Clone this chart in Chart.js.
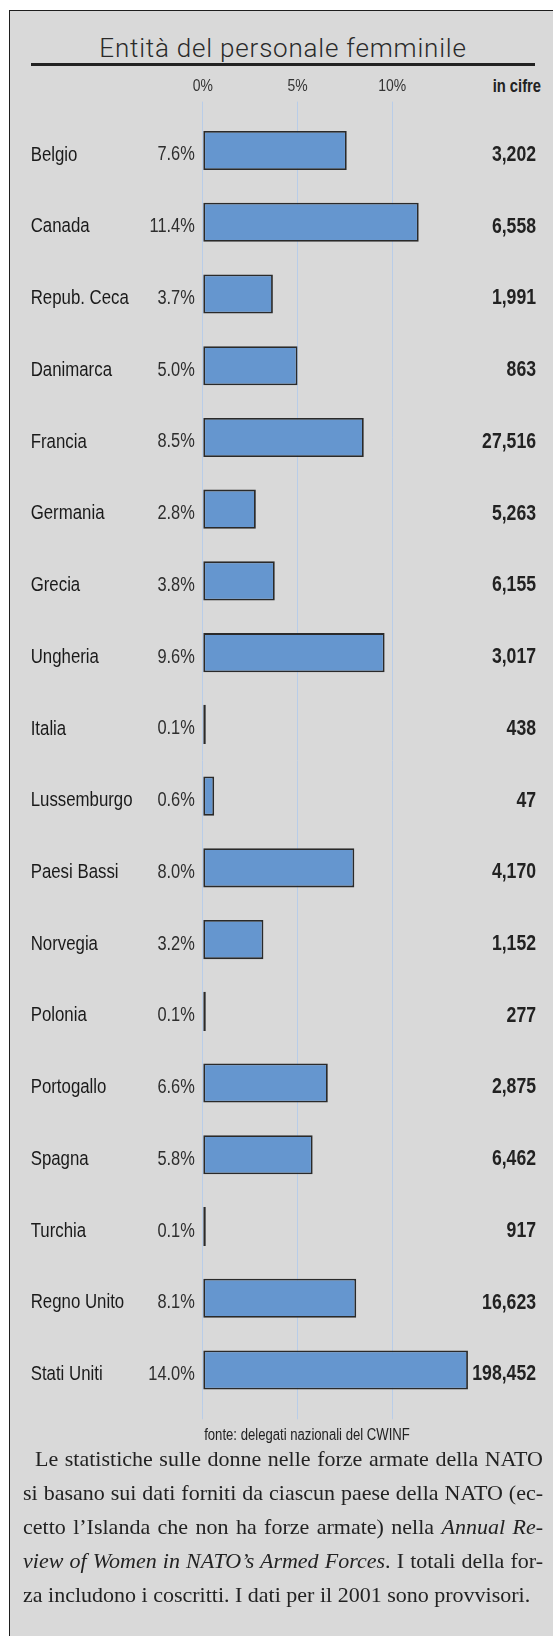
<!DOCTYPE html>
<html>
<head>
<meta charset="utf-8">
<script src="https://cdn.jsdelivr.net/npm/chart.js@4/dist/chart.umd.min.js"></script>
<style>
  html, body { margin: 0; padding: 0; background: #ffffff; }
  body { position: relative; width: 553px; height: 1636px; overflow: hidden; }
  #frame { position: absolute; left: 9px; top: 10px; right: 0; bottom: 0;
           border-left: 1.5px solid #1e1e1e; border-top: 1.5px solid #1e1e1e; background: #d9d9d9; }
  #title { position: absolute; left: 31px; width: 504px; top: 34.5px; text-align: center;
           font-family: Roboto, "Open Sans", sans-serif; font-weight: 300; font-size: 26px; line-height: 26px;
           letter-spacing: 0.8px; color: #2a2a2a; white-space: nowrap; }
  #rule { position: absolute; left: 31px; width: 504px; top: 63px; height: 3px; background: #222; }
  #incifre { position: absolute; right: 11.6px; top: 77px; font-family: "Liberation Sans", Arial, sans-serif;
             font-weight: bold; font-size: 18px; line-height: 18px; color: #222; white-space: nowrap;
             transform: scaleX(0.82); transform-origin: right center; }
  #c { position: absolute; left: 0; top: 0; }
  #src { position: absolute; left: 0; width: 614px; top: 1427px; text-align: center;
         font-family: "Liberation Sans", Arial, sans-serif; font-size: 16px; line-height: 16px;
         color: #222; white-space: nowrap; transform: scaleX(0.82); transform-origin: 307px center; }
  #para { position: absolute; left: 23px; width: 520px; top: 1442px;
          font-family: "Liberation Serif", "Times New Roman", serif; font-size: 22px; line-height: 34px; color: #222; }
  #para .l { text-align: justify; text-align-last: justify; }
  #para .last { text-align: left; }
  #para .ind { text-indent: 12px; }
</style>
</head>
<body>
<div id="frame"></div>
<div id="title">Entità del personale femminile</div>
<div id="rule"></div>
<div id="incifre">in cifre</div>
<canvas id="c" width="553" height="1440"></canvas>
<div id="src">fonte: delegati nazionali del CWINF</div>
<div id="para">
  <div class="l ind">Le statistiche sulle donne nelle forze armate della NATO</div>
  <div class="l">si basano sui dati forniti da ciascun paese della NATO (ec-</div>
  <div class="l">cetto l’Islanda che non ha forze armate) nella <i>Annual Re-</i></div>
  <div class="l"><i>view of Women in NATO’s Armed Forces</i>. I totali della for-</div>
  <div class="last">za includono i coscritti. I dati per il 2001 sono provvisori.</div>
</div>
<script>
// ---- data ----
const countries = ['Belgio','Canada','Repub. Ceca','Danimarca','Francia','Germania','Grecia','Ungheria','Italia','Lussemburgo','Paesi Bassi','Norvegia','Polonia','Portogallo','Spagna','Turchia','Regno Unito','Stati Uniti'];
const percentValues = [7.6, 11.4, 3.7, 5.0, 8.5, 2.8, 3.8, 9.6, 0.1, 0.6, 8.0, 3.2, 0.1, 6.6, 5.8, 0.1, 8.1, 14.0];
const percentLabels = ['7.6%','11.4%','3.7%','5.0%','8.5%','2.8%','3.8%','9.6%','0.1%','0.6%','8.0%','3.2%','0.1%','6.6%','5.8%','0.1%','8.1%','14.0%'];
const totalLabels = ['3,202','6,558','1,991','863','27,516','5,263','6,155','3,017','438','47','4,170','1,152','277','2,875','6,462','917','16,623','198,452'];
const xTickValues = [0, 5, 10];

const SANS = '"Liberation Sans", Arial, sans-serif';
const GRID = '#b9cde8';
const keepTicks = (scale) => { scale.ticks = xTickValues.map(v => ({ value: v })); };

// condensed look: draw canvas text horizontally narrowed (like Arial Narrow)
const canvas = document.getElementById('c');
const ctx2d = canvas.getContext('2d');
const nativeFill = ctx2d.fillText.bind(ctx2d);
const NARROW_SCALE = 0.82;
ctx2d.fillText = function (text, x, y) {
  this.save();
  this.translate(x, y);
  this.scale(NARROW_SCALE, 1);
  nativeFill(text, 0, 0);
  this.restore();
};

new Chart(canvas, {
  type: 'bar',
  data: {
    labels: countries,
    datasets: [{
      data: percentValues,
      backgroundColor: '#6596cf',
      borderColor: '#2a2a2a',
      borderWidth: 1.8,
      borderSkipped: false,
      barPercentage: 0.545,
      categoryPercentage: 1.0,
      minBarLength: 3,
      clip: false,
      xAxisID: 'x',
      yAxisID: 'y'
    }]
  },
  options: {
    indexAxis: 'y',
    responsive: false,
    animation: false,
    devicePixelRatio: 1,
    layout: { padding: { top: 74.6, left: 30.7, right: 17, bottom: 20.7 } },
    plugins: { legend: { display: false }, tooltip: { enabled: false }, title: { display: false } },
    scales: {
      x: {
        type: 'linear', position: 'top', min: 0, max: 12.313,
        afterBuildTicks: keepTicks,
        afterFit: (s) => { s.height = 40; },
        grid: { color: GRID, lineWidth: 1, tickLength: 13, drawTicks: true },
        border: { display: false },
        ticks: { padding: 5, color: '#333', font: { family: SANS, size: 17 }, callback: (v) => v + '%' }
      },
      x2: {
        type: 'linear', position: 'bottom', min: 0, max: 12.313,
        afterBuildTicks: keepTicks,
        afterFit: (s) => { s.height = 13.4; },
        grid: { color: GRID, lineWidth: 1, tickLength: 13.4, drawOnChartArea: false, drawTicks: true },
        border: { display: false },
        ticks: { display: false }
      },
      y: {
        type: 'category', position: 'left', weight: 2, offset: true,
        afterFit: (s) => { s.width = 107; },
        grid: { display: false, drawTicks: false },
        border: { display: false },
        ticks: { crossAlign: 'far', padding: 0, labelOffset: 4.5, autoSkip: false, color: '#1a1a1a', font: { family: SANS, size: 20.5 } }
      },
      yPct: {
        type: 'category', position: 'left', weight: 1, offset: true, labels: percentLabels,
        afterFit: (s) => { s.width = 65.1; },
        grid: { display: false, drawTicks: false },
        border: { display: false },
        ticks: { crossAlign: 'near', padding: 8, labelOffset: 4.5, autoSkip: false, color: '#2e2e2e', font: { family: SANS, size: 20 } }
      },
      yNum: {
        type: 'category', position: 'right', offset: true, labels: totalLabels,
        afterFit: (s) => { s.width = 100; },
        grid: { display: false, drawTicks: false },
        border: { display: false },
        ticks: { crossAlign: 'far', padding: 0, labelOffset: 4.5, autoSkip: false, color: '#222', font: { family: SANS, size: 21.5, weight: 'bold' } }
      }
    }
  }
});
</script>
</body>
</html>
